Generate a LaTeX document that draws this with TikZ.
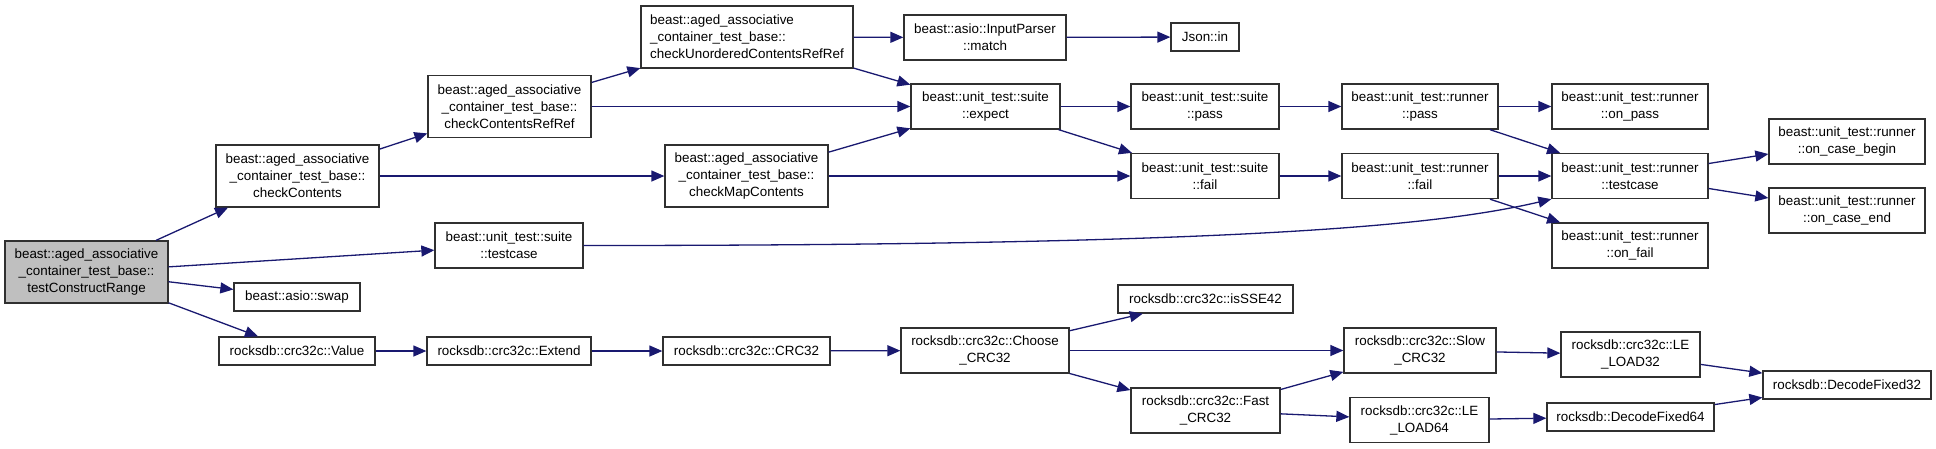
\documentclass[tikz,border=0pt]{standalone}
\usepackage{fontspec}
\setmainfont{Liberation Sans}
\usetikzlibrary{arrows.meta}
\definecolor{navy}{HTML}{191970}
\definecolor{frame}{HTML}{303030}
\definecolor{hilite}{HTML}{BFBFBF}

\begin{document}
\begin{tikzpicture}[x=1pt,y=-1pt,font=\fontsize{13.4}{17}\selectfont,
  fn/.style={draw=frame,fill=white,line width=1.3pt,inner sep=0pt,align=center},
  one/.style={fn,minimum height=28pt},
  two/.style={fn,minimum height=45pt},
  three/.style={fn,minimum height=62pt},
  call/.style={draw=navy,line width=1.3pt,-{Triangle[length=13pt,width=11pt]}}]
  \useasboundingbox (0,0) rectangle (1936,448);
  % caller
  \node[three,fill=hilite,minimum width=163pt] (tcr) at (86.5,272) {beast::aged\_associative\\\_container\_test\_base::\\testConstructRange};
  % aged container checks
  \node[three,minimum width=163pt] (cc) at (297.5,176) {beast::aged\_associative\\\_container\_test\_base::\\checkContents};
  \node[three,minimum width=163pt] (ccrr) at (509.5,106.5) {beast::aged\_associative\\\_container\_test\_base::\\checkContentsRefRef};
  \node[three,align=left,minimum width=212pt] (cucrr) at (747,37) {beast::aged\_associative\\\_container\_test\_base::\\checkUnorderedContentsRefRef};
  \node[three,minimum width=163pt] (cmc) at (746.5,176) {beast::aged\_associative\\\_container\_test\_base::\\checkMapContents};
  \node[one,minimum width=126pt] (swap) at (297,297) {beast::asio::swap};
  \node[two,minimum width=162pt] (match) at (985,37.5) {beast::asio::InputParser\\::match};
  \node[one,minimum width=68pt] (json) at (1205,37) {Json::in};
  % unit_test suite and runner
  \node[two,minimum width=148pt] (stc) at (509,245.5) {beast::unit\_test::suite\\::testcase};
  \node[two,minimum width=149pt] (expect) at (985.5,106.5) {beast::unit\_test::suite\\::expect};
  \node[two,minimum width=148pt] (spass) at (1205,106.5) {beast::unit\_test::suite\\::pass};
  \node[two,minimum width=148pt] (sfail) at (1205,176) {beast::unit\_test::suite\\::fail};
  \node[two,minimum width=156pt] (rpass) at (1420,106.5) {beast::unit\_test::runner\\::pass};
  \node[two,minimum width=156pt] (rfail) at (1420,176) {beast::unit\_test::runner\\::fail};
  \node[two,minimum width=156pt] (onpass) at (1630,106.5) {beast::unit\_test::runner\\::on\_pass};
  \node[two,minimum width=156pt] (rtc) at (1630,176) {beast::unit\_test::runner\\::testcase};
  \node[two,minimum width=156pt] (onfail) at (1630,245.5) {beast::unit\_test::runner\\::on\_fail};
  \node[two,minimum width=156pt] (begin) at (1847,141.5) {beast::unit\_test::runner\\::on\_case\_begin};
  \node[two,minimum width=156pt] (end) at (1847,210.5) {beast::unit\_test::runner\\::on\_case\_end};
  % rocksdb crc32c
  \node[one,minimum width=156pt] (value) at (297,351) {rocksdb::crc32c::Value};
  \node[one,minimum width=164pt] (extend) at (509,351) {rocksdb::crc32c::Extend};
  \node[one,minimum width=167pt] (crc) at (746.5,351) {rocksdb::crc32c::CRC32};
  \node[two,minimum width=168pt] (choose) at (985,350.5) {rocksdb::crc32c::Choose\\\_CRC32};
  \node[one,minimum width=175pt] (sse) at (1205.5,299) {rocksdb::crc32c::isSSE42};
  \node[two,minimum width=149pt] (fast) at (1205.5,410.5) {rocksdb::crc32c::Fast\\\_CRC32};
  \node[two,minimum width=152pt] (slow) at (1420,350.5) {rocksdb::crc32c::Slow\\\_CRC32};
  \node[two,minimum width=139pt] (le64) at (1419.5,420) {rocksdb::crc32c::LE\\\_LOAD64};
  \node[two,minimum width=139pt] (le32) at (1630.5,354.5) {rocksdb::crc32c::LE\\\_LOAD32};
  \node[one,minimum width=167pt] (df64) at (1630.5,417) {rocksdb::DecodeFixed64};
  \node[one,minimum width=168pt] (df32) at (1847,385) {rocksdb::DecodeFixed32};
  % calls
  \foreach \a/\b in {tcr/cc,tcr/stc,tcr/swap,tcr/value,cc/ccrr,cc/cmc,ccrr/cucrr,ccrr/expect,
      cucrr/match,cucrr/expect,cmc/expect,cmc/sfail,match/json,expect/spass,expect/sfail,
      spass/rpass,sfail/rfail,rpass/onpass,rpass/rtc,rfail/rtc,rfail/onfail,rtc/begin,rtc/end,
      value/extend,extend/crc,crc/choose,choose/sse,choose/slow,choose/fast,fast/slow,fast/le64,
      slow/le32,le64/df64,le32/df32,df64/df32}
    \draw[call] (\a) -- (\b);
  \draw[call] (stc.east) .. controls (1250,245.5) and (1440,225) .. (rtc.south west);
\end{tikzpicture}
\end{document}
